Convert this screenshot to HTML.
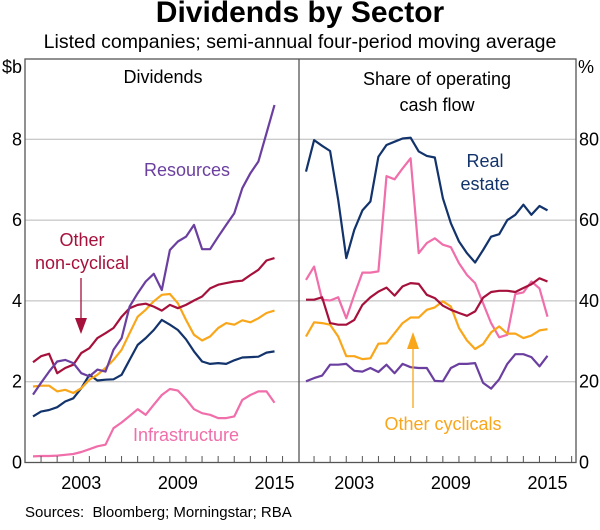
<!DOCTYPE html>
<html><head><meta charset="utf-8"><style>
body{margin:0;background:#fff;}
svg text{font-family:"Liberation Sans",Arial,sans-serif;}
</style></head><body>
<svg id="c" width="600" height="525" viewBox="0 0 600 525" xmlns="http://www.w3.org/2000/svg">
<text x="300" y="22" text-anchor="middle" font-size="30" font-weight="bold" fill="#000">Dividends by Sector</text>
<text x="300" y="48" text-anchor="middle" font-size="19.5" fill="#000">Listed companies; semi-annual four-period moving average</text>
<g id="grid"></g>
<g id="lines"></g>
<rect x="25" y="59" width="551" height="403.5" fill="none" stroke="#555" stroke-width="1.3"/>
<line x1="299" y1="59" x2="299" y2="462" stroke="#555" stroke-width="1.3"/>
<g id="axes"></g>
<text x="163" y="83" text-anchor="middle" font-size="18">Dividends</text>
<text x="437" y="85" text-anchor="middle" font-size="18">Share of operating</text>
<text x="437" y="111" text-anchor="middle" font-size="18">cash flow</text>
<text x="12" y="73" text-anchor="middle" font-size="18">$b</text>
<text x="586" y="73" text-anchor="middle" font-size="18">%</text>
<text x="187" y="176" text-anchor="middle" font-size="18" fill="#6b3fa0">Resources</text>
<text x="82" y="246" text-anchor="middle" font-size="18" fill="#a6113c">Other</text>
<text x="82" y="269" text-anchor="middle" font-size="18" fill="#a6113c">non-cyclical</text>
<line x1="81" y1="278" x2="81" y2="322" stroke="#a6113c" stroke-width="1.3"/>
<polygon points="75,318 87,318 81,334" fill="#a6113c"/>
<text x="186" y="441" text-anchor="middle" font-size="18" fill="#f06eaa">Infrastructure</text>
<text x="485" y="167" text-anchor="middle" font-size="18" fill="#12336b">Real</text>
<text x="485" y="190" text-anchor="middle" font-size="18" fill="#12336b">estate</text>
<text x="443" y="430" text-anchor="middle" font-size="18" fill="#f9a61a">Other cyclicals</text>
<line x1="413" y1="408" x2="413" y2="345" stroke="#f9a61a" stroke-width="1.3"/>
<polygon points="407,349 419,349 413,332" fill="#f9a61a"/>
<text x="25" y="517" font-size="15">Sources:&#160;&#160;Bloomberg; Morningstar; RBA</text>
</svg>
<script>
const startYear = 2000.5;
const resourcesDiv = [1.68,1.97,2.25,2.50,2.54,2.46,2.21,2.13,2.30,2.25,2.79,3.08,3.86,4.19,4.48,4.67,4.27,5.26,5.47,5.59,5.88,5.28,5.28,5.59,5.88,6.17,6.79,7.16,7.45,8.15,8.85];
const nonCyclicalDiv = [2.48,2.63,2.69,2.21,2.34,2.42,2.71,2.83,3.08,3.20,3.33,3.61,3.82,3.90,3.93,3.86,3.76,3.90,3.82,3.90,4.01,4.11,4.31,4.40,4.44,4.48,4.50,4.64,4.77,5.00,5.06];
const cyclicalsDiv = [1.88,1.90,1.90,1.76,1.80,1.72,1.84,2.05,2.17,2.34,2.54,2.79,3.20,3.61,3.78,3.99,4.15,4.17,3.94,3.53,3.16,3.02,3.12,3.33,3.45,3.41,3.52,3.47,3.57,3.70,3.76];
const realEstateDiv = [1.14,1.26,1.30,1.37,1.51,1.59,1.84,2.17,2.03,2.05,2.06,2.17,2.54,2.91,3.08,3.28,3.53,3.41,3.28,3.05,2.75,2.50,2.44,2.46,2.44,2.53,2.60,2.61,2.62,2.72,2.75];
const infraDiv = [0.15,0.16,0.16,0.17,0.19,0.21,0.26,0.33,0.40,0.44,0.85,0.99,1.15,1.32,1.18,1.43,1.67,1.82,1.78,1.57,1.32,1.22,1.18,1.10,1.10,1.14,1.55,1.67,1.76,1.76,1.48];
const realEstateShare = [72.0,79.8,78.4,77.1,65.0,50.6,57.6,62.4,64.6,75.7,78.6,79.4,80.2,80.4,77.0,75.9,75.5,65.4,59.2,54.7,51.8,49.5,52.6,55.9,56.5,60.0,61.3,63.8,61.3,63.5,62.4];
const infraShare = [45.2,48.5,40.3,40.1,40.9,35.7,41.5,47.0,47.0,47.3,70.9,70.1,72.8,75.3,51.8,54.3,55.5,53.9,53.3,49.3,46.4,44.4,39.4,34.5,31.0,31.6,41.7,42.1,44.8,43.1,36.1];
const nonCyclicalShare = [40.3,40.3,40.9,34.5,34.1,34.1,35.3,39.0,40.9,42.3,43.3,41.3,43.6,44.4,44.2,41.5,40.7,38.8,37.8,37.0,36.3,37.4,40.8,42.2,42.5,42.5,42.2,43.2,44.1,45.6,44.8];
const cyclicalsShare = [31.2,34.7,34.5,34.1,31.2,26.3,26.3,25.6,25.8,29.4,29.5,32.0,34.5,35.9,35.9,37.8,38.4,39.9,38.6,33.3,30.2,28.1,29.3,32.2,33.7,31.9,31.9,30.8,31.4,32.7,33.0];
const resourcesShare = [20.1,20.9,21.5,24.2,24.2,24.4,22.7,22.5,23.4,22.4,24.2,22.1,24.4,23.6,23.4,23.4,20.2,20.1,23.4,24.4,24.4,24.6,19.7,18.3,20.6,24.4,26.8,26.8,26.1,23.8,26.4];
const leftTicks = [0,2,4,6,8];
const rightTicks = [0,20,40,60,80];
const yearLabels = [2003,2009,2015];

const NS = 'http://www.w3.org/2000/svg';
const PX_YR = 16.1;
function xL(t){return 33 + (t - 2000.5) * PX_YR;}
function xR(t){return 299 + 7 + (t - 2000.5) * PX_YR;}
function yL(v){return 462.5 - v * 40.4;}
function yR(v){return 462.5 - v * 4.04;}
function mk(tag, attrs, parent){const e=document.createElementNS(NS,tag);for(const k in attrs)e.setAttribute(k,attrs[k]);parent.appendChild(e);return e;}
const grid=document.getElementById('grid'), axes=document.getElementById('axes'), lines=document.getElementById('lines');
leftTicks.forEach(v=>{
  if(v>0){const g=mk('line',{x1:25,x2:576,y1:yL(v),y2:yL(v),stroke:'#b8b8b8','stroke-width':1},grid);
  
  }
  const t=mk('text',{x:22,y:yL(v)+6,'text-anchor':'end','font-size':18},axes);t.textContent=v;
  
  
});
rightTicks.forEach(v=>{
  const t=mk('text',{x:579,y:yR(v)+6,'font-size':18},axes);t.textContent=v;
  
  
});
for(let y=2001;y<=2017;y++){
  [xL(y),xR(y)].forEach(x=>{
    if(x>=574||(x>297&&x<301))return;
    const l=mk('line',{x1:x,x2:x,y1:462.5,y2:456,stroke:'#555','stroke-width':1},axes);
    
    
  });
}
yearLabels.forEach(y=>{
  [xL(y+0.5),xR(y+0.5)].forEach(x=>{
    const t=mk('text',{x:x,y:489,'text-anchor':'middle','font-size':18},axes);t.textContent=y;
    
    
  });
});
function draw(arr, xf, yf, color, name){
  const pts=arr.map((v,i)=>xf(startYear+0.5*i).toFixed(1)+','+yf(v).toFixed(1)).join(' ');
  const p=mk('polyline',{points:pts,fill:'none',stroke:color,'stroke-width':2.2,'stroke-linejoin':'round'},lines);
  
  
}
draw(infraDiv,xL,yL,'#f06eaa','line-infrastructure-dividends');
draw(realEstateDiv,xL,yL,'#12336b','line-real-estate-dividends');
draw(cyclicalsDiv,xL,yL,'#f9a61a','line-other-cyclicals-dividends');
draw(nonCyclicalDiv,xL,yL,'#a6113c','line-other-noncyclical-dividends');
draw(resourcesDiv,xL,yL,'#6b3fa0','line-resources-dividends');
draw(infraShare,xR,yR,'#f06eaa','line-infrastructure-share');
draw(cyclicalsShare,xR,yR,'#f9a61a','line-other-cyclicals-share');
draw(nonCyclicalShare,xR,yR,'#a6113c','line-other-noncyclical-share');
draw(resourcesShare,xR,yR,'#6b3fa0','line-resources-share');
draw(realEstateShare,xR,yR,'#12336b','line-real-estate-share');
</script>
</body></html>
